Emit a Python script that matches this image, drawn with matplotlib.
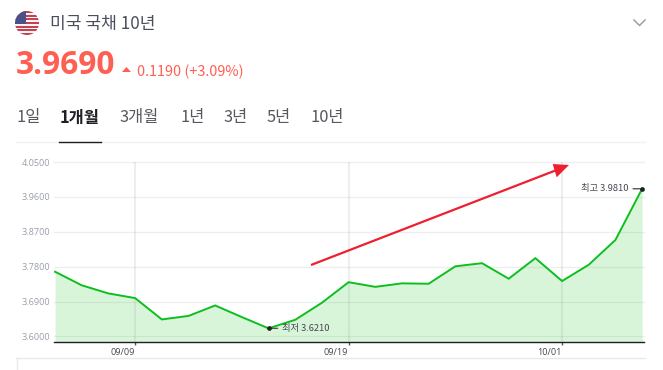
import matplotlib
matplotlib.use("Agg")
import matplotlib.pyplot as plt
from matplotlib.patches import Circle, Rectangle, Polygon

plt.rcParams['font.family'] = ['Noto Sans CJK KR', 'DejaVu Sans']

W, H = 663, 370

title = "미국 국채 10년"
price = "3.9690"
change = "0.1190"
change_pct = "(+3.09%)"
tabs = ["1일", "1개월", "3개월", "1년", "3년", "5년", "10년"]
tab_x = [16, 60, 120, 180, 224, 267, 311]
active_tab = "1개월"

values = [3.767, 3.732, 3.711, 3.699, 3.644, 3.653, 3.680, 3.650, 3.621, 3.643,
          3.687, 3.740, 3.728, 3.737, 3.736, 3.781, 3.789, 3.749, 3.802, 3.743,
          3.785, 3.849, 3.981]
y_ticks = [3.60, 3.69, 3.78, 3.87, 3.96, 4.05]
x_tick_pos = [3, 11, 19]
x_tick_labels = ["09/09", "09/19", "10/01"]
low_label = "최저 3.6210"
high_label = "최고 3.9810"

RED = "#FF5F52"
GREEN = "#0DBE1F"
FILL = "#D9F5D9"

fig = plt.figure(figsize=(W / 100, H / 100), dpi=100, facecolor="white")

# overlay in pixel coordinates for header and annotations
ov = fig.add_axes([0, 0, 1, 1], zorder=5)
ov.set_xlim(0, W)
ov.set_ylim(H, 0)
ov.axis("off")
ov.patch.set_alpha(0)

# flag
clip = Circle((27, 23), 12, transform=ov.transData)
for i in range(13):
    r = Rectangle((15, 11 + i * 24 / 13), 24, 24 / 13,
                  fc="#C8414E" if i % 2 == 0 else "#F6F4F6", ec="none")
    ov.add_patch(r)
    r.set_clip_path(clip)
r = Rectangle((15, 11), 10.8, 13, fc="#4C5088", ec="none")
ov.add_patch(r)
r.set_clip_path(clip)

ov.text(50, 23.5, title, fontsize=12.3, color="#4A4F5C", va="center", ha="left")
ov.plot([634, 639.5, 645], [20, 25.5, 20], color="#9A9FAB", lw=1.1)

ov.text(16, 66, price, fontsize=22.8, color=RED, va="center", ha="left",
        fontweight="bold", family=["Open Sans", "DejaVu Sans"])
ov.add_patch(Polygon([[122, 72], [131, 72], [126.5, 67]], fc=RED, ec="none"))
ov.text(137, 71.5, change + " " + change_pct, fontsize=10.4, color=RED,
        va="center", ha="left")

for t, x in zip(tabs, tab_x):
    on = t == active_tab
    ov.text(x, 117.5, t, fontsize=11.8, va="center", ha="left",
            color="#1E1E24" if on else "#55585F",
            fontweight="bold" if on else "normal")
ov.plot([16, 645], [141.5, 141.5], color="#F0F1F3", lw=1)
ov.plot([59, 101], [141.5, 141.5], color="#1E1E24", lw=1)
ov.plot([16, 645], [357.5, 357.5], color="#E8E9EC", lw=1)
ov.plot([16.5, 16.5], [357.5, 370], color="#E8E9EC", lw=1)

# trend arrow
ov.plot([311, 558], [265, 169.5], color="#EE2030", lw=1.6, solid_capstyle="butt")
ov.add_patch(Polygon([[552.7, 164], [569, 165], [556.7, 177.3]], fc="#EE2030", ec="none"))

# chart
ax = fig.add_axes([54 / W, 1 - 342.3 / H, 590 / W, 180.3 / H], zorder=1)
xs = list(range(len(values)))
ax.set_xlim(-0.04, 22.07)
ax.set_ylim(3.585, 4.05)
ax.fill_between(xs, values, 3.585, color=FILL, lw=0, zorder=1)
ax.set_yticks(y_ticks)
ax.set_yticklabels([f"{v:.4f}" for v in y_ticks], fontsize=6.6, color="#9A9FAB",
                   family=["Open Sans", "DejaVu Sans"])
for v in y_ticks:
    ax.axhline(v, color="#7A8090", alpha=0.13, lw=1, zorder=2, clip_on=False)
for p in x_tick_pos:
    ax.axvline(p, color="#7A8090", alpha=0.13, lw=1.5, zorder=2)
ax.plot(xs, values, color=GREEN, lw=1.4, zorder=3, solid_joinstyle="miter", clip_on=False)
for s in ["top", "left", "right"]:
    ax.spines[s].set_visible(False)
ax.spines["bottom"].set_color("#1E1E24")
ax.spines["bottom"].set_linewidth(1)
ax.tick_params(axis="y", length=0, pad=3)
ax.set_xticks(x_tick_pos)
ax.set_xticklabels([])
ax.tick_params(axis="x", length=2.5, width=1, color="#55585F")
for p, lab in zip(x_tick_pos, x_tick_labels):
    ax.annotate(lab, (p, 3.585), xytext=(-0.5, -7.5), textcoords="offset points",
                ha="right", va="center", fontsize=6.6, color="#444850",
                family=["Open Sans", "DejaVu Sans"], annotation_clip=False)

imin = values.index(min(values))
imax = values.index(max(values))
ax.plot([imin, imax], [values[imin], values[imax]], "o", ms=2.4, color="#222", zorder=4, clip_on=False)
ax.annotate(low_label, (imin, values[imin]), xytext=(9.5, 0), textcoords="offset points",
            ha="left", va="center", fontsize=6.7, color="#444850",
            arrowprops=dict(arrowstyle="-", color="#555", lw=1, shrinkA=1, shrinkB=0))
ax.annotate(high_label, (imax, values[imax]), xytext=(-9.5, 0), textcoords="offset points",
            ha="right", va="center", fontsize=6.7, color="#444850",
            arrowprops=dict(arrowstyle="-", color="#555", lw=1, shrinkA=1, shrinkB=0),
            annotation_clip=False)

fig.savefig("out.png", dpi=100, facecolor="white")
